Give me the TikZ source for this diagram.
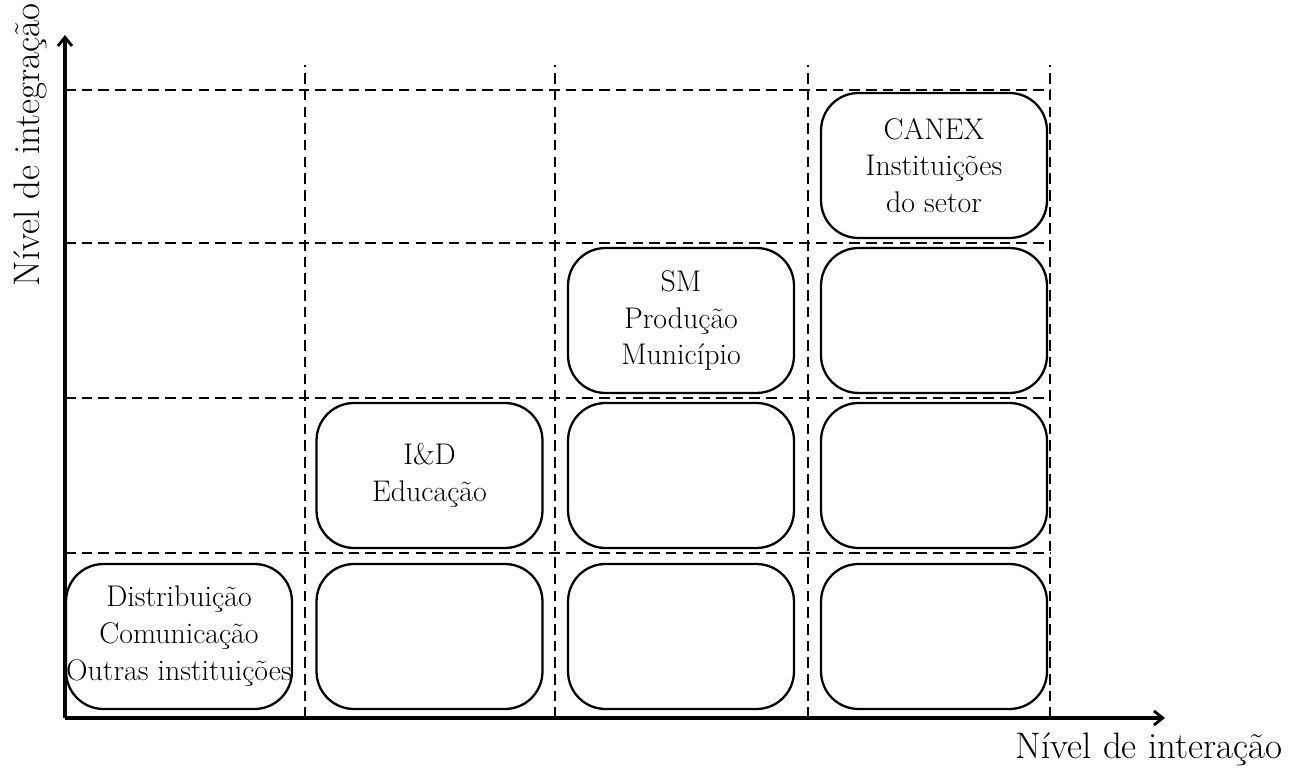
\documentclass[tikz,border=0pt]{standalone}
\usetikzlibrary{arrows.meta,positioning}

\begin{document}
\begin{tikzpicture}[
    x=0.02cm, y=0.02cm,
    cell/.style={rectangle, rounded corners=0.75cm, draw=black, line width=1.3pt,
                 minimum width=4.52cm, minimum height=2.9cm, align=center,
                 font=\fontsize{17}{21}\selectfont, inner sep=0pt},
    grid/.style={dashed, line width=1.6pt, dash pattern=on 6pt off 3.5pt},
    axis/.style={line width=2pt, -{Straight Barb[length=5pt,width=8pt,line width=1.6pt]}},
    axislabel/.style={font=\fontsize{21}{25}\selectfont}
]
    \useasboundingbox (0,0) rectangle (1293,767);

    % grid
    \foreach \gx in {305,555,808,1050}
        \draw[grid] (\gx,49) -- (\gx,702);
    \foreach \gy in {214,369,524,677}
        \draw[grid] (65,\gy) -- (1050,\gy);

    % axes
    \draw[axis] (65,49) -- (65,732);
    \draw[axis] (65,49) -- (1165,49);
    \node[axislabel, rotate=90] (ylab) at (30,622) {Nível de integração};
    \node[axislabel] (xlab) at (1149,18) {Nível de interação};

    % row 1
    \node[cell] (dist)  at (179,130.5) {Distribuição\\Comunicação\\Outras instituições};
    \node[cell] (c12)   at (429.5,130.5) {};
    \node[cell] (c13)   at (681,130.5) {};
    \node[cell] (c14)   at (934,130.5) {};

    % row 2
    \node[cell] (ied)   at (429.5,291.5) {I\&D\\Educação};
    \node[cell] (c23)   at (681,291.5) {};
    \node[cell] (c24)   at (934,291.5) {};

    % row 3
    \node[cell] (sm)    at (681,446.5) {SM\\Produção\\Município};
    \node[cell] (c34)   at (934,446.5) {};

    % row 4
    \node[cell] (canex) at (934,601.5) {CANEX\\Instituições\\do setor};
\end{tikzpicture}
\end{document}
